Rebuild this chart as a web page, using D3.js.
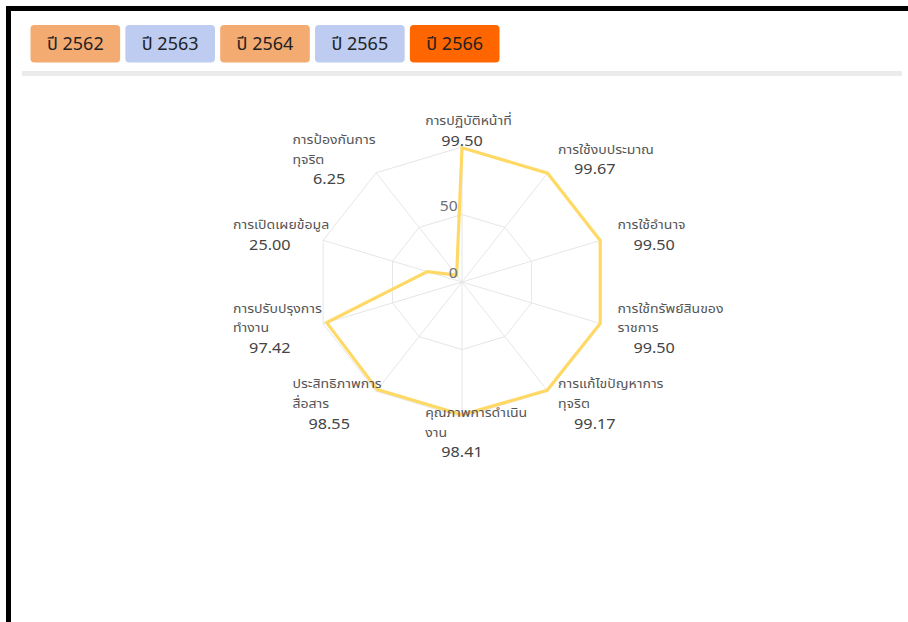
<!DOCTYPE html>
<html>
<head>
<meta charset="utf-8">
<script src="https://cdn.jsdelivr.net/npm/d3@7"></script>
<style>
  html, body { margin: 0; padding: 0; background: #fff; overflow: hidden; }
  svg { display: block; }
</style>
</head>
<body>
<svg id="chart" width="908" height="622"></svg>
<script>
// ---- data ----
const years = ["ปี 2562", "ปี 2563", "ปี 2564", "ปี 2565", "ปี 2566"];
const yearColors = ["#F4AB72", "#BDCCF0", "#F4AB72", "#BDCCF0", "#FF6600"];
const categories = [
  "การปฏิบัติหน้าที่", "การใช้งบประมาณ", "การใช้อำนาจ", "การใช้ทรัพย์สินของราชการ",
  "การแก้ไขปัญหาการทุจริต", "คุณภาพการดำเนินงาน", "ประสิทธิภาพการสื่อสาร",
  "การปรับปรุงการทำงาน", "การเปิดเผยข้อมูล", "การป้องกันการทุจริต"
];
const categoryLines = [
  ["การปฏิบัติหน้าที่"], ["การใช้งบประมาณ"], ["การใช้อำนาจ"], ["การใช้ทรัพย์สินของ", "ราชการ"],
  ["การแก้ไขปัญหาการ", "ทุจริต"], ["คุณภาพการดำเนิน", "งาน"], ["ประสิทธิภาพการ", "สื่อสาร"],
  ["การปรับปรุงการ", "ทำงาน"], ["การเปิดเผยข้อมูล"], ["การป้องกันการ", "ทุจริต"]
];
const values2566 = [99.50, 99.67, 99.50, 99.50, 99.17, 98.41, 98.55, 97.42, 25.00, 6.25];
const tickValues = [0, 50];
const gridLevels = [50, 100];

// ---- layout ----
const svg = d3.select("#chart");
const FONT = "'Noto Sans Thai', 'Noto Sans', 'Open Sans', sans-serif";

// frame border (left + top visible)
svg.append("rect").attr("x", 8.5).attr("y", 8.5).attr("width", 1000).attr("height", 1000)
  .attr("fill", "none").attr("stroke", "#000").attr("stroke-width", 5);

// year buttons
const bx = d3.scaleBand().domain(years).range([30.5, 499.5]).paddingInner(0.055);
const btn = svg.append("g").selectAll("g").data(years).join("g")
  .attr("transform", d => `translate(${bx(d)},25)`);
btn.append("rect").attr("width", bx.bandwidth()).attr("height", 37.5).attr("rx", 4)
  .attr("fill", (d, i) => yearColors[i]);
btn.append("text").attr("x", bx.bandwidth() / 2).attr("y", 19).attr("text-anchor", "middle")
  .attr("dominant-baseline", "central").attr("font-family", FONT).attr("font-size", 18)
  .attr("fill", "#222").text(d => d);

// divider
svg.append("rect").attr("x", 22).attr("y", 71).attr("width", 880).attr("height", 5).attr("fill", "#ebebeb");

// radar
const R = 135, sx = 1.082;
const r = d3.scaleLinear().domain([0, 100]).range([0, R]);
const n = categories.length;
const ang = d3.scaleLinear().domain([0, n]).range([0, 2 * Math.PI]);
const px = (i, v) => r(v) * Math.sin(ang(i));
const py = (i, v) => -r(v) * Math.cos(ang(i));

const g = svg.append("g").attr("transform", `translate(462,282) scale(${sx},1)`);

const line = d3.line().x(d => d[0]).y(d => d[1]);
// grid polygons
g.selectAll("path.grid").data(gridLevels).join("path").attr("class", "grid")
  .attr("d", lv => line(d3.range(n).map(i => [px(i, lv), py(i, lv)])) + "Z")
  .attr("fill", "none").attr("stroke", "#e6e6e6").attr("stroke-width", 1)
  .attr("vector-effect", "non-scaling-stroke");
// spokes
g.selectAll("line.spoke").data(d3.range(n)).join("line").attr("class", "spoke")
  .attr("x1", 0).attr("y1", 0).attr("x2", i => px(i, 100)).attr("y2", i => py(i, 100))
  .attr("stroke", "#e6e6e6").attr("stroke-width", 1).attr("vector-effect", "non-scaling-stroke");

// data polygon
g.append("path")
  .attr("d", line(values2566.map((v, i) => [px(i, v), py(i, v)])) + "Z")
  .attr("fill", "none").attr("stroke", "#FFD966").attr("stroke-width", 3.2)
  .attr("stroke-linejoin", "miter").attr("vector-effect", "non-scaling-stroke");

// tick labels
g.selectAll("text.tick").data(tickValues).join("text").attr("class", "tick")
  .attr("x", -4).attr("y", t => -r(t) - 8).attr("text-anchor", "end")
  .attr("dominant-baseline", "central").attr("font-family", FONT).attr("font-size", 14.5)
  .attr("fill", "#6E7079").text(t => t);

// axis names + values
const gap = 16, W = 68, LH = 19.6;
categories.forEach((c, i) => {
  const a = ang(i);
  const s = Math.sin(a);
  const ax = (R + gap) * s, ay = -(R + gap) * Math.cos(a);
  const lines = categoryLines[i];
  const total = lines.length + 1;
  const top = ay - total * LH / 2;
  let left;
  if (Math.abs(s) < 0.01) left = ax - W / 2;
  else if (s > 0) left = ax;
  else left = ax - W;
  const lg = g.append("g");
  lines.forEach((t, k) => {
    lg.append("text").attr("x", left).attr("y", top + LH * (k + 0.5))
      .attr("dominant-baseline", "central").attr("font-family", FONT).attr("font-size", 13)
      .attr("fill", "#555").text(t);
  });
  lg.append("text").attr("x", left + W / 2).attr("y", top + LH * (lines.length + 0.5))
    .attr("text-anchor", "middle").attr("dominant-baseline", "central")
    .attr("font-family", FONT).attr("font-size", 15).attr("fill", "#444")
    .text(values2566[i].toFixed(2));
});
</script>
</body>
</html>
